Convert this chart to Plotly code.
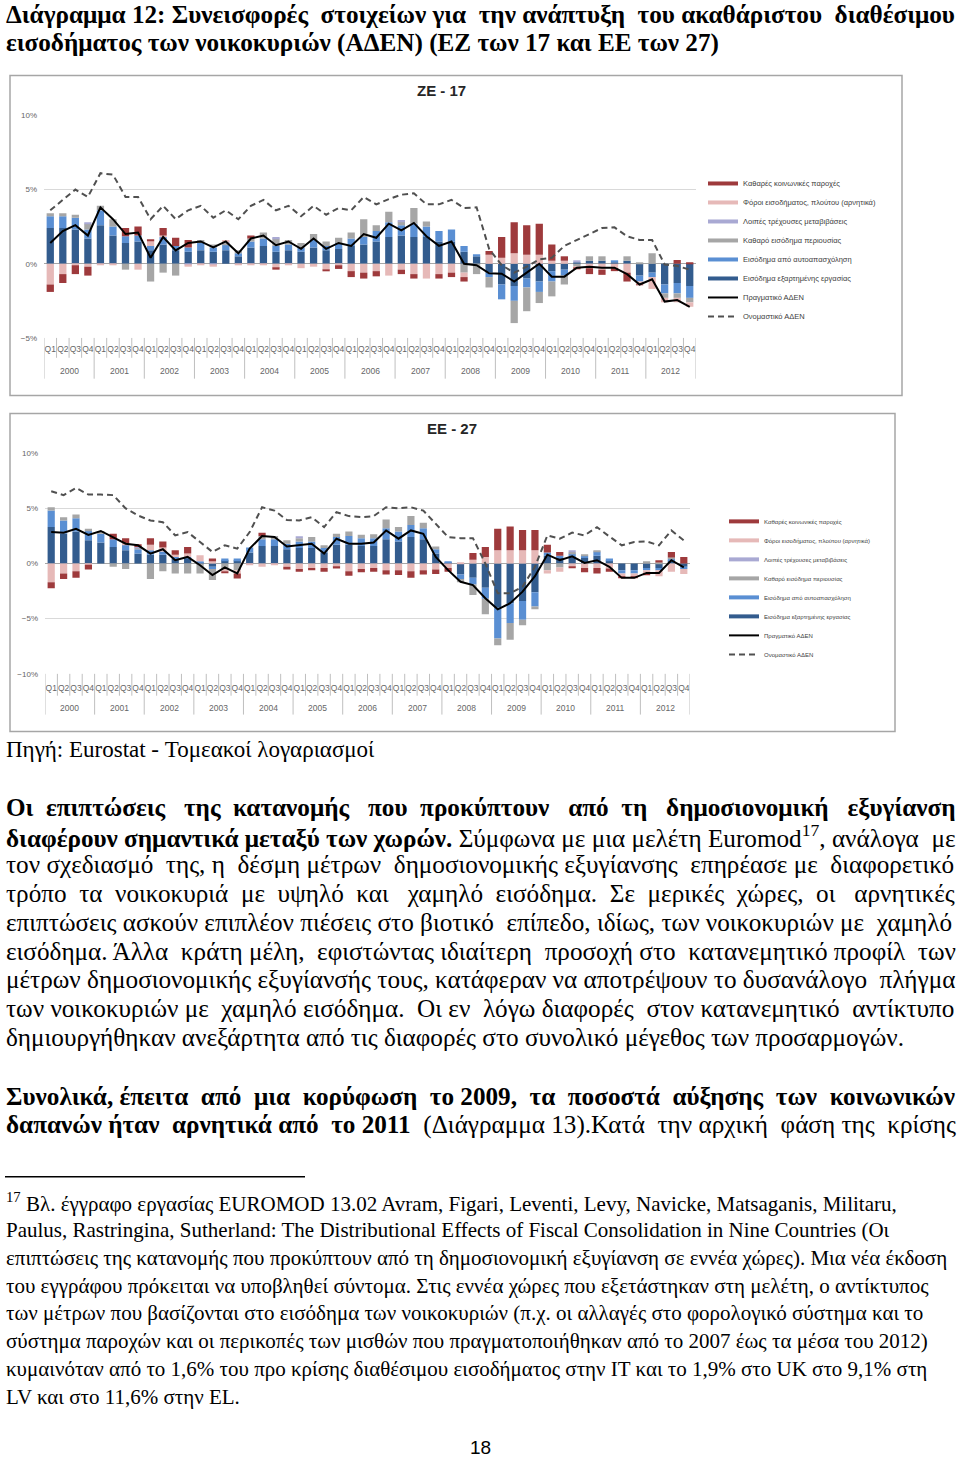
import plotly.graph_objects as go

# ---------------- categories ----------------
year_labels = ["2000", "2001", "2002", "2003", "2004", "2005", "2006",
               "2007", "2008", "2009", "2010", "2011", "2012"]
quarter_labels = ["Q1", "Q2", "Q3", "Q4"]

series_names = [
    "Καθαρές κοινωνικές παροχές",
    "Φόροι εισοδήματος, πλούτου (αρνητικά)",
    "Λοιπές τρέχουσες μεταβιβάσεις",
    "Καθαρό εισόδημα περιουσίας",
    "Εισόδημα από αυτοαπασχόληση",
    "Εισόδημα εξαρτημένης εργασίας",
]
real_name = "Πραγματικό ΑΔΕΝ"
nominal_name = "Ονομαστικό ΑΔΕΝ"

# ---------------- ZE-17 values (%, contributions) ----------------
ze_emp = [2.4, 2.4, 2.3, 1.7, 2.6, 1.9, 1.4, 1.5, 0.9, 1.3, 0.9, 0.8, 0.9, 0.8, 0.9, 0.5,
          1.1, 1.2, 0.8, 0.9, 0.8, 1.1, 0.9, 1.0, 1.2, 1.3, 1.5, 1.8, 1.9, 1.8, 1.8, 1.5,
          1.5, 0.8, 0.5, -0.6, -1.4, -1.5, -1.0, -1.2, -0.5, -0.4, 0.1, 0.2, 0.2, 0.1, 0.2, -0.8,
          -0.6, -1.4, -1.3, -1.5]
ze_mix = [0.8, 0.8, 0.8, 0.6, 1.0, 0.6, 0.45, 0.4, 0.3, 0.5, 0.3, 0.3, 0.5, 0.3, 0.4, 0.2,
          0.4, 0.5, 0.4, 0.4, 0.3, 0.5, 0.3, 0.4, 0.5, 0.5, 0.7, 1.0, 0.7, 0.9, 0.7, 0.7,
          0.8, 0.4, 0.1, -0.3, -1.0, -1.0, -0.6, -0.7, -0.7, -0.4, 0.0, 0.0, 0.0, 0.1, 0.0, -0.4,
          -0.3, -0.6, -0.7, -0.8]
ze_prop = [0.2, 0.2, 0.2, 0.4, 0.3, 0.5, -0.4, 0.0, -1.2, -0.6, -0.8, 0.0, 0.2, 0.2, 0.1, 0.2,
           0.2, 0.4, 0.5, 0.3, 0.3, 0.4, 0.3, 0.35, 0.4, 1.2, 0.4, 0.7, 0.25, 1.05, 0.35, 0.0,
           0.0, -0.6, -0.7, -0.7, 0.0, -1.5, -1.6, -0.75, -1.0, -0.6, -0.2, 0.3, 0.3, 0.0, 0.3, 0.05,
           0.7, -0.3, -0.3, -0.3]
ze_oth = [0.0, 0.0, 0.0, 0.1, 0.0, 0.0, 0.0, 0.0, 0.0, 0.0, 0.0, -0.1, 0.0, -0.1, 0.1, 0.0,
          0.0, 0.0, 0.1, 0.0, 0.0, 0.0, 0.0, 0.0, 0.0, 0.0, 0.0, 0.0, 0.1, 0.0, 0.0, 0.0,
          0.0, 0.0, 0.0, 0.0, 0.0, 0.0, 0.0, 0.0, 0.0, 0.0, 0.1, 0.0, 0.0, 0.0, 0.0, 0.0,
          0.0, 0.0, 0.0, 0.0]
ze_tax = [-1.4, -0.7, -0.1, -0.2, -0.1, -0.05, 0.0, -0.4, 0.35, 0.1, 0.0, -0.1, -0.1, -0.1, 0.1, -0.1,
          -0.1, -0.1, -0.3, -0.1, -0.3, -0.2, -0.4, -0.1, -0.5, -0.6, -0.5, -0.8, -0.4, -0.7, -1.0, -0.7,
          -0.6, -0.3, 0.0, 0.6, 0.4, 0.7, 0.6, 0.6, 0.2, 0.2, -0.1, -0.3, -0.4, -0.3, -0.6, -0.2,
          -0.8, -0.3, -0.3, -0.3]
ze_soc = [-0.5, -0.6, -0.6, -0.6, 0.0, 0.0, 0.55, 0.6, 0.05, 0.5, 0.55, 0.5, 0.0, 0.0, 0.0, 0.0,
          0.2, 0.0, -0.1, 0.0, 0.0, 0.0, -0.1, -0.25, -0.4, -0.4, -0.35, 0.0, -0.3, -0.3, 0.0, -0.3,
          -0.3, -0.3, 0.0, 0.25, 1.4, 2.1, 2.0, 2.1, 1.1, 0.3, -0.05, -0.4, -0.35, -0.2, -0.6, -0.05,
          0.0, 0.0, 0.25, 0.1]
ze_real = [1.4, 2.2, 2.6, 1.9, 3.8, 3.0, 2.0, 2.1, 0.4, 1.8, 0.9, 1.4, 1.5, 1.1, 1.5, 0.7,
           1.7, 1.9, 1.25, 1.5, 1.0, 1.7, 1.0, 1.4, 1.2, 2.0, 1.75, 2.7, 2.25, 2.75, 1.85, 1.2,
           1.5, 0.0, -0.1, -0.65, -0.67, -1.2, -0.6, 0.0, -0.87, -0.87, -0.27, -0.2, -0.27, -0.27, -0.7, -1.4,
           -1.05, -2.55, -2.45, -2.9]
ze_nominal = [3.6, 4.3, 5.0, 4.5, 6.1, 6.0, 4.5, 4.5, 3.0, 3.9, 3.0, 3.6, 3.9, 3.1, 3.6, 3.0,
              3.9, 4.3, 3.6, 3.9, 3.2, 3.9, 3.3, 3.75, 3.6, 4.5, 4.0, 4.35, 4.65, 4.75, 4.0, 4.0,
              4.3, 3.75, 3.8, 1.0, -0.1, -0.6, -0.2, 0.3, 0.4, 1.2, 1.6, 2.0, 2.4, 2.45, 1.85, 1.6,
              1.6, -0.05, -0.15, -0.4]

# ---------------- EE-27 values (%, contributions) ----------------
ee_emp = [3.3, 2.7, 2.9, 2.1, 1.9, 1.5, 1.2, 0.9, 0.8, 0.8, 0.4, 0.4, 0.1, -0.3, 0.3, 0.3,
          1.0, 1.6, 1.6, 1.3, 1.4, 1.4, 1.0, 1.7, 1.7, 1.6, 1.6, 2.2, 2.0, 2.4, 2.2, 0.9,
          0.1, -1.0, -1.3, -2.2, -4.0, -3.6, -3.4, -2.6, 0.7, 0.5, 0.6, 0.5, 0.7, 0.3, -0.6, -0.6,
          -0.4, -0.4, 0.3, -0.3]
ee_mix = [1.5, 1.2, 1.2, 0.9, 0.8, 0.7, 0.5, 0.4, 0.4, 0.3, 0.2, 0.2, 0.1, -0.2, 0.15, 0.15,
          0.45, 0.6, 0.6, 0.5, 0.6, 0.6, 0.4, 0.7, 0.8, 0.7, 0.7, 1.0, 0.9, 1.1, 1.0, 0.4,
          0.05, -0.4, -0.6, -1.0, -2.8, -1.8, -1.7, -1.3, 0.3, 0.2, 0.3, 0.2, 0.4, 0.15, -0.3, -0.3,
          -0.2, -0.2, 0.15, -0.2]
ee_prop = [0.3, 0.3, 0.35, 0.15, 0.25, -0.3, -0.5, 0.1, -1.4, -0.7, -0.9, -0.9, -0.9, -1.0, -0.6, -0.6,
           0.0, 0.3, 0.3, 0.3, 0.3, 0.4, 0.25, 0.3, 0.4, 0.3, 0.35, 0.8, 0.4, 0.8, 0.5, 0.25,
           0.0, -0.3, -0.95, -1.4, -0.6, -1.5, -0.5, -0.25, -0.6, -0.35, 0.15, 0.15, 0.1, 0.0, 0.0, 0.0,
           0.2, 0.1, 0.1, 0.0]
ee_oth = [0.0, 0.0, 0.0, 0.0, 0.0, 0.0, 0.0, 0.1, 0.0, 0.0, 0.0, 0.0, 0.0, 0.0, 0.0, 0.0,
          0.0, 0.0, 0.0, 0.0, 0.1, 0.0, 0.0, 0.0, 0.0, 0.0, 0.0, 0.0, 0.0, 0.0, 0.0, 0.0,
          0.0, 0.0, 0.0, 0.0, 0.0, 0.0, 0.0, 0.0, 0.0, 0.0, 0.1, 0.0, 0.0, 0.0, 0.0, 0.0,
          0.0, 0.0, 0.0, 0.0]
ee_tax = [-1.7, -0.9, -0.7, -0.1, 0.0, 0.0, 0.15, 0.0, 0.5, 0.35, 0.2, 0.3, 0.55, 0.3, -0.1, -0.3,
          -0.1, -0.3, -0.1, -0.3, -0.5, -0.4, -0.4, -0.3, -0.7, -0.5, -0.4, -0.6, -0.6, -0.7, -0.6, -0.55,
          -0.4, 0.05, 0.35, 0.6, 1.2, 1.2, 1.2, 1.2, -0.3, -0.4, -0.3, -0.4, -0.4, -0.45, -0.3, -0.3,
          -0.35, -0.55, -0.75, -0.45]
ee_soc = [-0.55, -0.5, -0.6, -0.45, 0.0, 0.5, 0.45, 0.25, 0.6, 0.55, 0.4, 0.6, 0.0, 0.15, -0.1, -0.45,
          0.0, 0.3, 0.0, -0.25, -0.25, -0.2, -0.35, -0.15, -0.4, -0.3, -0.35, -0.4, -0.45, -0.6, -0.4, -0.4,
          -0.35, 0.0, 0.6, 0.9, 1.95, 2.15, 1.85, 1.85, 0.7, 0.35, -0.1, -0.4, -0.5, -0.3, -0.1, -0.1,
          -0.1, 0.2, 0.5, 0.6]
ee_real = [2.85, 2.8, 3.15, 2.6, 2.95, 2.4, 1.8, 1.65, 0.9, 1.3, 0.3, 0.6, -0.15, -1.05, -0.35, -0.9,
           1.35, 2.5, 2.4, 1.55, 1.65, 1.8, 0.9, 2.25, 1.8, 1.8, 1.9, 3.0, 2.25, 3.0, 2.7, 0.6,
           -0.6, -1.65, -1.95, -3.15, -4.15, -3.6, -2.55, -1.15, 0.8, 0.3, 0.65, 0.05, 0.3, -0.3, -1.3, -1.3,
           -0.85, -0.85, 0.3, -0.35]
ee_nominal = [6.55, 6.2, 6.85, 6.25, 6.25, 6.2, 5.0, 4.35, 3.9, 3.75, 2.55, 2.85, 1.95, 1.05, 1.65, 1.35,
              2.85, 5.1, 4.8, 3.95, 3.9, 4.2, 3.3, 4.65, 4.3, 4.2, 4.3, 5.1, 5.0, 5.1, 4.8, 3.6,
              2.4, 2.3, 2.3, 0.0, -2.7, -2.7, -2.1, -0.3, 2.55, 2.25, 2.8, 2.55, 3.3, 2.45, 1.65, 1.95,
              2.0, 1.65, 3.0, 2.1]

# ---------------- styling ----------------
W, H = 960, 1460
def px(x):
    return x / W
def py(y):
    return 1 - y / H

colors = ["#9E3A3C", "#E6B9B8", "#A9A9D3", "#A6A6A6", "#5A8FD3", "#335C8E"]
stack_order = [5, 4, 3, 2, 1, 0]  # emp at the base, social benefits on top
chart_font = "Liberation Sans, Arial, sans-serif"
serif = "Liberation Serif, Times New Roman, serif"
axis_grey = "#BFBFBF"

# unique category ids (year + quarter), labelled with the quarter only
x_ids = [y + "-" + q for y in year_labels for q in quarter_labels]
x_quarters = [q for _ in year_labels for q in quarter_labels]
n_cat = len(x_ids)

fig = go.Figure()

def add_chart(comp, real, nominal, xa, ya, legend_id):
    for k in stack_order:
        fig.add_trace(go.Bar(x=x_ids, y=comp[k], marker=dict(color=colors[k], line=dict(width=0)),
                             name=series_names[k], xaxis=xa, yaxis=ya, showlegend=False))
    fig.add_trace(go.Scatter(x=x_ids, y=real, mode="lines", name=real_name,
                             line=dict(color="#000000", width=2), xaxis=xa, yaxis=ya,
                             legend=legend_id, legendrank=7))
    fig.add_trace(go.Scatter(x=x_ids, y=nominal, mode="lines", name=nominal_name,
                             line=dict(color="#505050", width=2, dash="6px,4px"),
                             xaxis=xa, yaxis=ya, legend=legend_id, legendrank=8))
    # legend swatches for the bar series (flat bars like the original legend)
    for k in range(6):
        fig.add_trace(go.Scatter(x=[x_ids[0]], y=[None], mode="lines",
                                 name=series_names[k], line=dict(color=colors[k], width=4),
                                 xaxis=xa, yaxis=ya, legend=legend_id, legendrank=k + 1))

add_chart([ze_soc, ze_tax, ze_oth, ze_prop, ze_mix, ze_emp], ze_real, ze_nominal, "x", "y", "legend")
add_chart([ee_soc, ee_tax, ee_oth, ee_prop, ee_mix, ee_emp], ee_real, ee_nominal, "x2", "y2", "legend2")

def xaxis_cfg(domain, anchor, standoff):
    return dict(type="category", domain=domain, anchor=anchor, range=[-0.5, n_cat - 0.5],
                tickmode="array", tickvals=x_ids, ticktext=x_quarters, tickangle=0,
                tickfont=dict(family=chart_font, size=8.5, color="#666666"),
                ticks="", ticklabelstandoff=standoff, showgrid=False, zeroline=False,
                showline=False, fixedrange=True)

yaxis_common = dict(showgrid=True, gridcolor="#D9D9D9", gridwidth=1, zeroline=True,
                    zerolinecolor="#A6A6A6", zerolinewidth=1, ticksuffix="%", dtick=5,
                    tickfont=dict(family=chart_font, size=8, color="#666666"), showline=False,
                    ticks="", ticklabelstandoff=6, fixedrange=True)

fig.update_layout(
    width=W, height=H, autosize=False,
    margin=dict(l=0, r=0, t=0, b=0),
    paper_bgcolor="white", plot_bgcolor="white",
    barmode="relative", bargap=0.42,
    xaxis=xaxis_cfg([px(44), px(696)], "y", 5),
    yaxis=dict(domain=[py(336), py(112)], range=[-5, 10], anchor="x", **yaxis_common),
    xaxis2=xaxis_cfg([px(45), px(690)], "y2", 8),
    yaxis2=dict(domain=[py(674), py(452)], range=[-10, 10], anchor="x2", **yaxis_common),
    legend=dict(x=px(703), y=py(166), xanchor="left", yanchor="top", traceorder="normal",
                font=dict(family=chart_font, size=7.5, color="#404040"), bgcolor="rgba(0,0,0,0)",
                itemwidth=30, tracegroupgap=0),
    legend2=dict(x=px(724), y=py(506), xanchor="left", yanchor="top", traceorder="normal",
                 font=dict(family=chart_font, size=6, color="#404040"), bgcolor="rgba(0,0,0,0)",
                 itemwidth=30, tracegroupgap=0),
    showlegend=True,
)

# category separators (quarter ticks and longer year dividers) and year labels
def category_axis_marks(xref, axis_y, q_end, y_end, year_y):
    for b in range(n_cat + 1):
        end = y_end if b % len(quarter_labels) == 0 else q_end
        fig.add_shape(type="line", xref=xref, yref="paper", x0=b - 0.5, x1=b - 0.5,
                      y0=py(axis_y), y1=py(end), line=dict(color=axis_grey, width=1))
    for j, yr in enumerate(year_labels):
        fig.add_annotation(x=j * len(quarter_labels) + 1.5, xref=xref, y=py(year_y), yref="paper",
                           text=yr, showarrow=False, xanchor="center", yanchor="middle",
                           font=dict(family=chart_font, size=8.5, color="#666666"))

category_axis_marks("x", 336, 356, 377, 369)
category_axis_marks("x2", 674, 696, 715, 708)

# chart frames and footnote rule
fig.add_shape(type="rect", xref="paper", yref="paper", x0=px(10), x1=px(902), y0=py(394), y1=py(72),
              line=dict(color="#A6A6A6", width=1.5), fillcolor="rgba(0,0,0,0)", layer="below")
fig.add_shape(type="rect", xref="paper", yref="paper", x0=px(10), x1=px(895), y0=py(732), y1=py(412),
              line=dict(color="#A6A6A6", width=1.5), fillcolor="rgba(0,0,0,0)", layer="below")
fig.add_shape(type="line", xref="paper", yref="paper", x0=px(5), x1=px(305), y0=py(1180), y1=py(1180),
              line=dict(color="black", width=1.5))

NB = "\u00a0"

def justify(s, extra):
    # widen the gaps between words with non-breaking spaces (text justification)
    parts = s.split(" ")
    gaps = len(parts) - 1
    out = parts[0]
    for i in range(gaps):
        k = (extra * (i + 1)) // gaps - (extra * i) // gaps
        out += " " + NB * k + parts[i + 1]
    return out

def text(x, y, s, size=25.2, family=serif, anchor="left", color="black"):
    fig.add_annotation(x=px(x), y=py(y), xref="paper", yref="paper", text=s, showarrow=False,
                       xanchor=anchor, yanchor="middle", align="left",
                       font=dict(family=family, size=size, color=color))

# chart titles
text(441, 87, "<b>ZE - 17</b>", size=15, family=chart_font, anchor="center", color="#262626")
text(452, 427, "<b>EE - 27</b>", size=15, family=chart_font, anchor="center", color="#262626")

# page text
text(4, 11, justify("<b>Διάγραμμα 12: Συνεισφορές στοιχείων για την ανάπτυξη του ακαθάριστου διαθέσιμου</b>", 4))
text(4, 39, "<b>εισοδήματος των νοικοκυριών (ΑΔΕΝ) (ΕΖ των 17 και ΕΕ των 27)</b>")
text(4, 750, "Πηγή: Eurostat - Τομεακοί λογαριασμοί", size=23)

para1 = [
    ("<b>Οι επιπτώσεις της κατανομής που προκύπτουν από τη δημοσιονομική εξυγίανση</b>", 14),
    ("<b>διαφέρουν σημαντικά μεταξύ των χωρών.</b> Σύμφωνα με μια μελέτη Euromod<sup>17</sup>, ανάλογα με", 1),
    ("τον σχεδιασμό της, η δέσμη μέτρων δημοσιονομικής εξυγίανσης επηρέασε με διαφορετικό", 5),
    ("τρόπο τα νοικοκυριά με υψηλό και χαμηλό εισόδημα. Σε μερικές χώρες, οι αρνητικές", 14),
    ("επιπτώσεις ασκούν επιπλέον πιέσεις στο βιοτικό επίπεδο, ιδίως, των νοικοκυριών με χαμηλό", 2),
    ("εισόδημα. Άλλα κράτη μέλη, εφιστώντας ιδιαίτερη προσοχή στο κατανεμητικό προφίλ των", 5),
    ("μέτρων δημοσιονομικής εξυγίανσής τους, κατάφεραν να αποτρέψουν το δυσανάλογο πλήγμα", 1),
    ("των νοικοκυριών με χαμηλό εισόδημα. Οι εν λόγω διαφορές στον κατανεμητικό αντίκτυπο", 5),
    ("δημιουργήθηκαν ανεξάρτητα από τις διαφορές στο συνολικό μέγεθος των προσαρμογών.", 0),
]
for i, (s, e) in enumerate(para1):
    text(4, 808 + 29 * i, justify(s, e))

para2 = [
    ("<b>Συνολικά, έπειτα από μια κορύφωση το 2009, τα ποσοστά αύξησης των κοινωνικών</b>", 9),
    ("<b>δαπανών ήταν αρνητικά από το 2011</b> (Διάγραμμα 13).Κατά την αρχική φάση της κρίσης", 6),
]
for i, (s, e) in enumerate(para2):
    text(4, 1099 + 29 * i, justify(s, e))

foot = [
    "<sup>17</sup> Βλ. έγγραφο εργασίας EUROMOD 13.02 Avram, Figari, Leventi, Levy, Navicke, Matsaganis, Militaru,",
    "Paulus, Rastringina, Sutherland: The Distributional Effects of Fiscal Consolidation in Nine Countries (Οι",
    "επιπτώσεις της κατανομής που προκύπτουν από τη δημοσιονομική εξυγίανση σε εννέα χώρες). Μια νέα έκδοση",
    "του εγγράφου πρόκειται να υποβληθεί σύντομα. Στις εννέα χώρες που εξετάστηκαν στη μελέτη, ο αντίκτυπος",
    "των μέτρων που βασίζονται στο εισόδημα των νοικοκυριών (π.χ. οι αλλαγές στο φορολογικό σύστημα και το",
    "σύστημα παροχών και οι περικοπές των μισθών που πραγματοποιήθηκαν από το 2007 έως τα μέσα του 2012)",
    "κυμαινόταν από το 1,6% του προ κρίσης διαθέσιμου εισοδήματος στην IT και το 1,9% στο UK στο 9,1% στη",
    "LV και στο 11,6% στην EL.",
]
for i, s in enumerate(foot):
    text(4, 1206 + 27.9 * i, s, size=21)

text(480, 1452, "18", size=19, family="Liberation Sans Narrow, Liberation Sans, sans-serif", anchor="center")

fig.write_html("out.html", config={"displayModeBar": False},
               post_script="document.body.style.margin='0px';document.body.style.padding='0px';")
